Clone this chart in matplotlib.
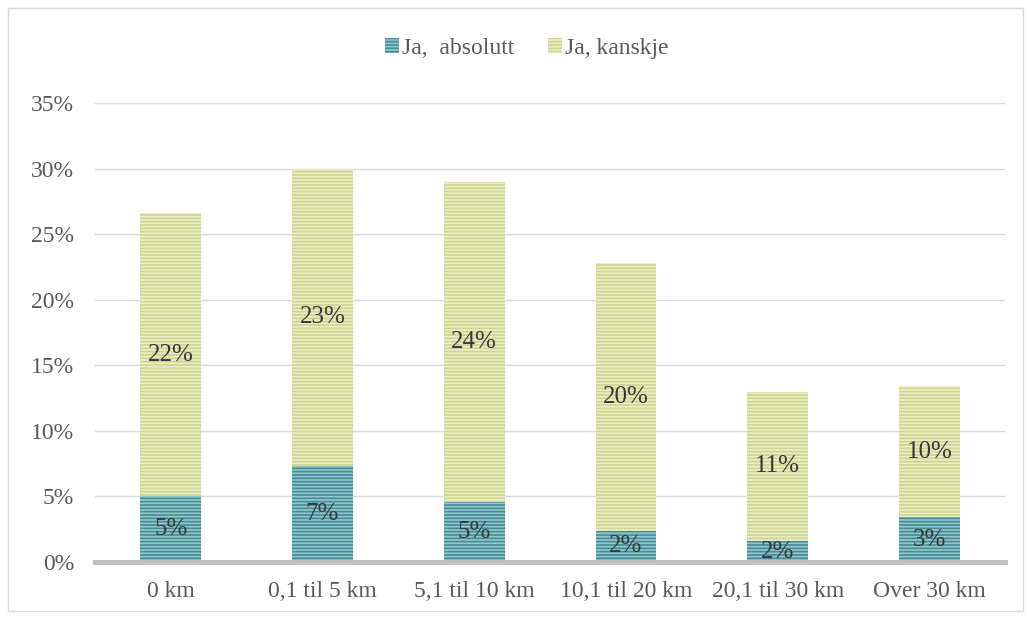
import matplotlib
matplotlib.use("Agg")
import matplotlib.pyplot as plt
from matplotlib.patches import Rectangle

categories = ["0 km", "0,1 til 5 km", "5,1 til 10 km", "10,1 til 20 km",
              "20,1 til 30 km", "Over 30 km"]
absolutt = [5.0, 7.3, 4.6, 2.4, 1.6, 3.4]
kanskje = [21.6, 22.7, 24.4, 20.4, 11.4, 10.0]
series_names = ["Ja,  absolutt", "Ja, kanskje"]
yticks = [0, 5, 10, 15, 20, 25, 30, 35]

TEAL_FACE = "#92c7cc"
TEAL_HATCH = "#448d97"
LIME_FACE = "#ebefc6"
LIME_HATCH = "#ccd48e"
TEXT = "#595959"

plt.rcParams["font.family"] = ["Liberation Serif", "DejaVu Serif"]
plt.rcParams["hatch.linewidth"] = 1.2

fig = plt.figure(figsize=(10.31, 6.18), dpi=100)
ax = fig.add_axes([0.092, 0.0906, 0.883, 0.7427])

x = range(len(categories))
w = 0.40
b1 = ax.bar(x, absolutt, width=w, color=TEAL_FACE, hatch="-----",
            edgecolor=TEAL_HATCH, linewidth=0, label=series_names[0], zorder=3)
for p in b1:
    p._hatch_color = matplotlib.colors.to_rgba(TEAL_HATCH)
b2 = ax.bar(x, kanskje, width=w, bottom=absolutt, color=LIME_FACE, hatch="-----",
            edgecolor=LIME_HATCH, linewidth=0, label=series_names[1], zorder=3)
for p in b2:
    p._hatch_color = matplotlib.colors.to_rgba(LIME_HATCH)

for i in x:
    ax.text(i, absolutt[i] / 2, f"{absolutt[i]:.0f}%", ha="center", va="center",
            fontsize=18, color="#383838", zorder=4)
    ax.text(i, absolutt[i] + kanskje[i] / 2, f"{kanskje[i]:.0f}%", ha="center",
            va="center", fontsize=18, color="#383838", zorder=4)

ax.set_xlim(-0.5, len(categories) - 0.5)
ax.set_ylim(0, 35)
ax.set_yticks(yticks)
ax.set_yticklabels([f"{t}%" for t in yticks])
ax.set_xticks(list(x))
ax.set_xticklabels(categories)
ax.yaxis.grid(True, color="#d9d9d9", linewidth=1, zorder=0)
ax.set_axisbelow(True)
for s in ["top", "right", "left"]:
    ax.spines[s].set_visible(False)
ax.spines["bottom"].set_color("#bfbfbf")
ax.spines["bottom"].set_linewidth(3.5)
ax.spines["bottom"].set_zorder(5)
ax.tick_params(axis="both", length=0, labelsize=17, labelcolor=TEXT)
ax.tick_params(axis="y", pad=15)
ax.tick_params(axis="x", pad=14)

leg = fig.legend(loc="center", bbox_to_anchor=(0.511, 0.922), ncol=2, frameon=False,
                 fontsize=17, handlelength=0.6, handleheight=0.6,
                 handletextpad=0.15, columnspacing=1.4, labelcolor=TEXT)

fig.patches.append(Rectangle((0.008, 0.012), 0.984, 0.975, transform=fig.transFigure,
                             fill=False, edgecolor="#d9d9d9", linewidth=1))

fig.savefig("out.png", dpi=100)
